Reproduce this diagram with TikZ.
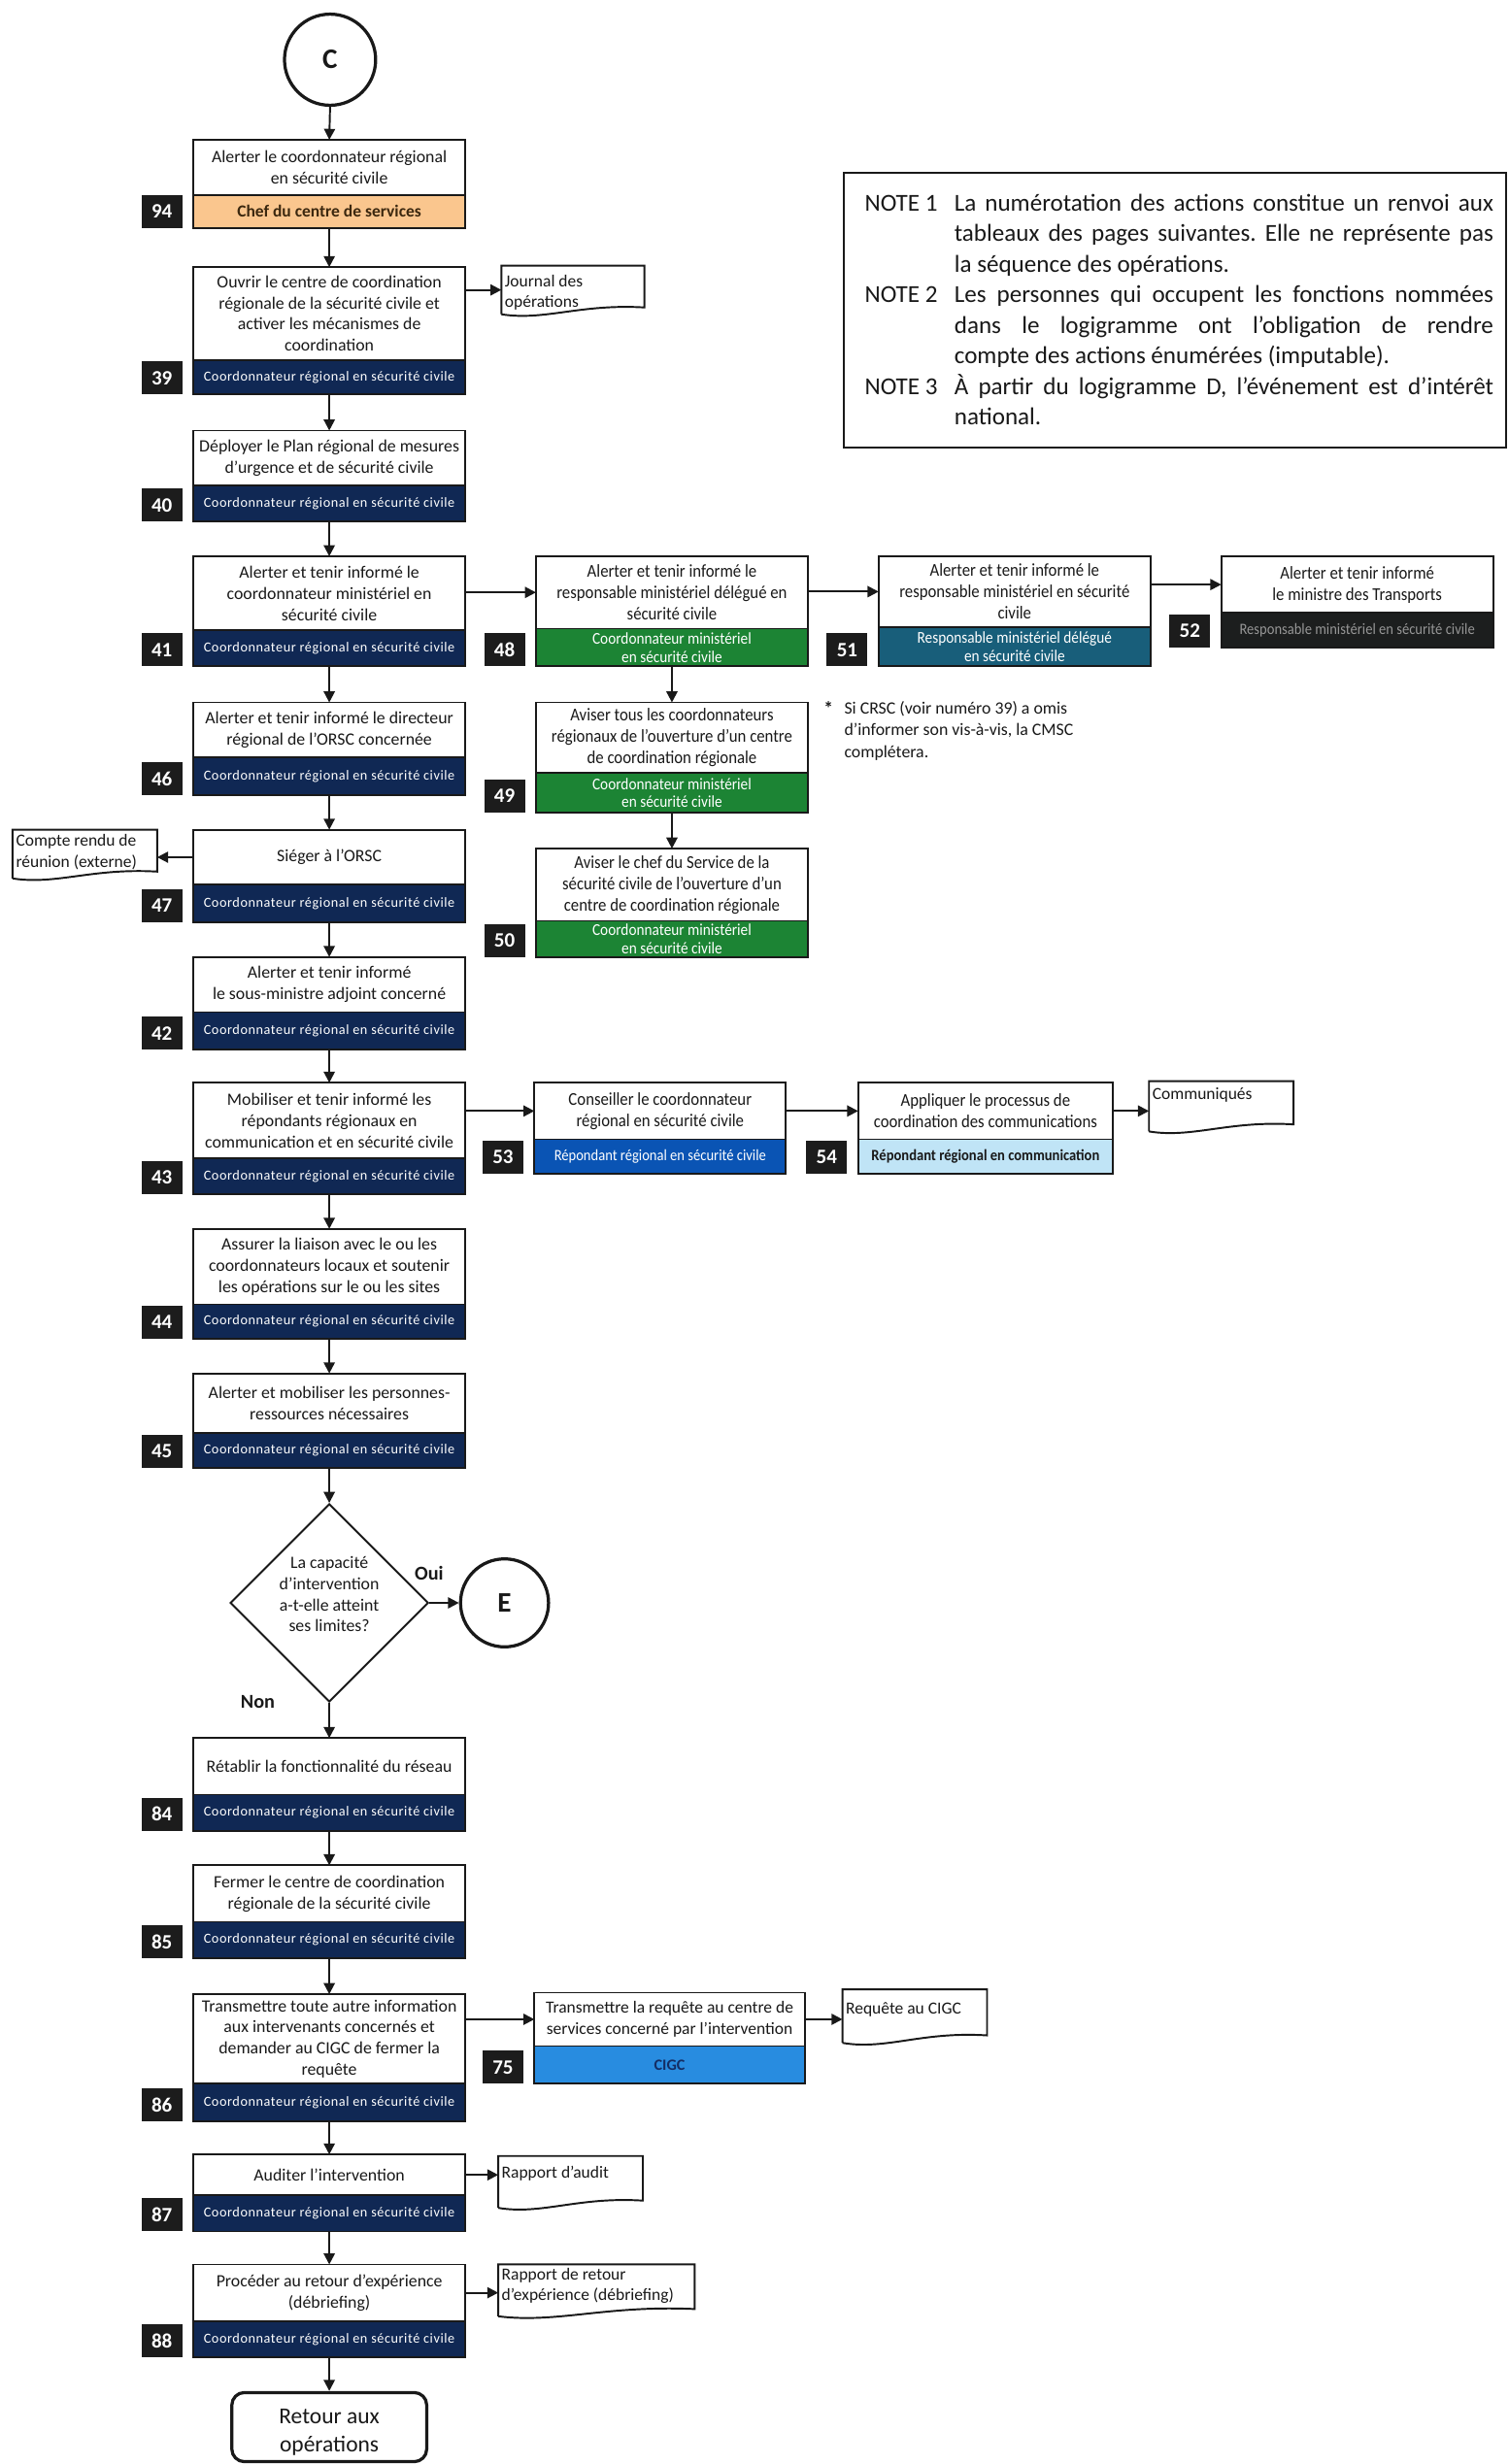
\documentclass[tikz,border=0pt]{standalone}
\usepackage{fontspec}
\setmainfont{Carlito}
\newfontfamily\narrowfont[FakeStretch=0.9]{Carlito}
\newfontfamily\bandfont[LetterSpace=4.0]{Carlito}
\usetikzlibrary{arrows.meta,shapes.geometric}

\definecolor{ink}{RGB}{25,25,25}
\definecolor{c-navy}{RGB}{16,40,84}
\definecolor{c-green}{RGB}{28,132,52}
\definecolor{c-teal}{RGB}{24,94,122}
\definecolor{c-dark}{RGB}{28,30,30}
\definecolor{c-blue}{RGB}{10,84,180}
\definecolor{c-pale}{RGB}{192,228,246}
\definecolor{c-cigc}{RGB}{40,140,224}
\definecolor{c-orange}{RGB}{250,198,142}
\definecolor{c-num}{RGB}{28,28,28}
\definecolor{c-grey}{RGB}{150,150,150}
\definecolor{c-brown}{RGB}{60,40,15}
\definecolor{c-cigctext}{RGB}{20,45,100}

\tikzset{
  arr/.style={draw=ink, line width=1.2pt, -{Triangle[length=7pt,width=7pt]}},
  task/.style={draw=ink, line width=1.1pt, fill=white, inner sep=1pt, outer sep=0pt,
    align=center, anchor=north west, text=ink, font=\fontsize{11}{13.5}\selectfont},
  narrowtask/.style={task, font=\narrowfont\fontsize{11.5}{13.5}\selectfont},
  curtask/.style={task},
  role/.style={draw=ink, line width=1.1pt, inner sep=0pt, outer sep=0pt, align=center, anchor=north west},
  navyrole/.style={role, fill=c-navy, text=white, font=\bandfont\fontsize{8.8}{10}\selectfont},
  orangerole/.style={role, fill=c-orange, text=c-brown, font=\bfseries\fontsize{10.8}{12}\selectfont},
  greenrole/.style={role, fill=c-green, text=white, font=\narrowfont\fontsize{10.5}{11.5}\selectfont},
  tealrole/.style={role, fill=c-teal, text=white, font=\narrowfont\fontsize{10.5}{11.5}\selectfont},
  darkrole/.style={role, fill=c-dark, text=c-grey, font=\narrowfont\fontsize{10}{11.5}\selectfont},
  bluerole/.style={role, fill=c-blue, text=white, font=\narrowfont\fontsize{10}{11.5}\selectfont},
  palerole/.style={role, fill=c-pale, text=ink, font=\narrowfont\bfseries\fontsize{10}{11.5}\selectfont},
  cigcrole/.style={role, fill=c-cigc, text=c-cigctext, font=\bfseries\fontsize{10}{11.5}\selectfont},
  numbox/.style={fill=c-num, text=white, font=\bfseries\fontsize{13}{13}\selectfont,
    minimum width=26pt, minimum height=21pt, inner sep=0pt, outer sep=0pt, anchor=south east},
  docarea/.style={draw=none, inner sep=0pt, outer sep=0pt, anchor=north west},
  doclabel/.style={inner xsep=2pt, inner ysep=0pt, anchor=north west, align=left, text=ink,
    font=\fontsize{10.8}{13}\selectfont},
  docline/.style={draw=ink, line width=1.2pt},
  connector/.style={circle, draw=ink, line width=2pt, minimum size=58pt, inner sep=0pt,
    text=ink, font=\bfseries\fontsize{18}{18}\selectfont},
  answer/.style={text=ink, font=\bfseries\fontsize{12.5}{14}\selectfont, inner sep=0pt},
  footnote/.style={anchor=north west, inner sep=0pt, text=ink, font=\fontsize{11}{14}\selectfont},
}

% task box: white action part, coloured role band below, numbered tag at left
\newcommand\actw{173}
\newcommand\actbox[9]{%
  \node[curtask, minimum width=\actw pt, minimum height=#4pt] (#1) at (#2,#3) {#6};
  \node[#7, minimum width=\actw pt, minimum height=#5pt] (#1r) at (#1.south west) {#8};
  \node[numbox] (#1n) at ([xshift=-7pt]#1r.south west) {#9};
}

% document symbol with a wavy lower edge; #7 = text offset from the top
\newcommand\docshape[7]{%
  \node[docarea, minimum width=#4pt, minimum height=#5pt] (#1) at (#2,#3) {};
  \node[doclabel] (#1t) at ([yshift=-#7]#1.north west) {#6};
  \draw[docline] (#1.south west) -- (#1.north west) -- (#1.north east)
    -- ([yshift=0.14*#5]#1.south east)
    .. controls ([xshift=-0.45*#4, yshift=0.22*#5]#1.south east)
    and ([xshift=0.3*#4, yshift=-0.14*#5]#1.south west) .. (#1.south west);
}

\begin{document}
\begin{tikzpicture}[x=1pt, y=-1pt]
\fill[white] (0,0) rectangle (960,1568);
\useasboundingbox (0,0) rectangle (960,1568);

% ---------- main column ----------
\node[connector] (cC) at (210,38) {C};

\actbox{b94}{123}{89}{35}{21}{Alerter le coordonnateur régional\\en sécurité civile}{orangerole}{Chef du centre de services}{94}
\actbox{b39}{123}{170}{59}{22}{Ouvrir le centre de coordination\\régionale de la sécurité civile et\\activer les mécanismes de\\coordination}{navyrole}{Coordonnateur régional en sécurité civile}{39}
\actbox{b40}{123}{274}{35}{23}{Déployer le Plan régional de mesures\\d’urgence et de sécurité civile}{navyrole}{Coordonnateur régional en sécurité civile}{40}
\actbox{b41}{123}{354}{47}{23}{Alerter et tenir informé le\\coordonnateur ministériel en\\sécurité civile}{navyrole}{Coordonnateur régional en sécurité civile}{41}
\actbox{b46}{123}{447}{35}{24}{Alerter et tenir informé le directeur\\régional de l’ORSC concernée}{navyrole}{Coordonnateur régional en sécurité civile}{46}
\actbox{b47}{123}{528}{35}{24}{Siéger à l’ORSC}{navyrole}{Coordonnateur régional en sécurité civile}{47}
\actbox{b42}{123}{609}{35}{24}{Alerter et tenir informé\\le sous-ministre adjoint concerné}{navyrole}{Coordonnateur régional en sécurité civile}{42}
\actbox{b43}{123}{689}{48}{23}{Mobiliser et tenir informé les\\répondants régionaux en\\communication et en sécurité civile}{navyrole}{Coordonnateur régional en sécurité civile}{43}
\actbox{b44}{123}{782}{48}{22}{Assurer la liaison avec le ou les\\coordonnateurs locaux et soutenir\\les opérations sur le ou les sites}{navyrole}{Coordonnateur régional en sécurité civile}{44}
\actbox{b45}{123}{874}{38}{22}{Alerter et mobiliser les personnes-\\ressources nécessaires}{navyrole}{Coordonnateur régional en sécurité civile}{45}

\node[diamond, draw=ink, line width=1.2pt, minimum width=126pt, minimum height=126pt,
  inner sep=0pt] (dec) at (209.5,1020) {};
\node[align=center, inner sep=0pt, text=ink, font=\fontsize{11}{13.5}\selectfont] (dectext) at (209.5,1014.5)
  {La capacité\\d’intervention\\a-t-elle atteint\\ses limites?};
\node[connector, minimum size=56pt] (cE) at (321,1020) {E};
\node[answer] (oui) at (273,1001) {Oui};
\node[answer] (non) at (164,1083) {Non};

\actbox{b84}{123}{1106}{36}{23}{Rétablir la fonctionnalité du réseau}{navyrole}{Coordonnateur régional en sécurité civile}{84}
\actbox{b85}{123}{1187}{36}{23}{Fermer le centre de coordination\\régionale de la sécurité civile}{navyrole}{Coordonnateur régional en sécurité civile}{85}
\actbox{b86}{123}{1269}{57}{24}{Transmettre toute autre information\\aux intervenants concernés et\\demander au CIGC de fermer la\\requête}{navyrole}{Coordonnateur régional en sécurité civile}{86}
\actbox{b87}{123}{1371}{26}{23}{Auditer l’intervention}{navyrole}{Coordonnateur régional en sécurité civile}{87}
\actbox{b88}{123}{1441}{36}{23}{Procéder au retour d’expérience\\(débriefing)}{navyrole}{Coordonnateur régional en sécurité civile}{88}

\node[draw=ink, line width=2pt, rounded corners=8pt, minimum width=124pt, minimum height=44pt,
  align=center, text=ink, font=\fontsize{14.5}{17.5}\selectfont] (ret) at (209.5,1544.5)
  {\rule{0pt}{16pt}Retour aux\\opérations};

% ---------- branch boxes ----------
\tikzset{curtask/.style={narrowtask}}
\actbox{b48}{341}{354}{46}{24}{Alerter et tenir informé le\\responsable ministériel délégué en\\sécurité civile}{greenrole}{Coordonnateur ministériel\\en sécurité civile}{48}
\actbox{b49}{341}{447}{45}{25}{Aviser tous les coordonnateurs\\régionaux de l’ouverture d’un centre\\de coordination régionale}{greenrole}{Coordonnateur ministériel\\en sécurité civile}{49}
\actbox{b50}{341}{540}{46}{23}{Aviser le chef du Service de la\\sécurité civile de l’ouverture d’un\\centre de coordination régionale}{greenrole}{Coordonnateur ministériel\\en sécurité civile}{50}
\actbox{b51}{559}{354}{45}{25}{Alerter et tenir informé le\\responsable ministériel en sécurité\\civile}{tealrole}{Responsable ministériel délégué\\en sécurité civile}{51}
\actbox{b52}{777}{354}{36}{22}{Alerter et tenir informé\\le ministre des Transports}{darkrole}{Responsable ministériel en sécurité civile}{52}
\renewcommand\actw{160}
\actbox{b53}{340}{689}{36}{22}{Conseiller le coordonnateur\\régional en sécurité civile}{bluerole}{Répondant régional en sécurité civile}{53}
\renewcommand\actw{162}
\actbox{b54}{546}{689}{36}{22}{Appliquer le processus de\\coordination des communications}{palerole}{Répondant régional en communication}{54}
\tikzset{curtask/.style={task, font=\fontsize{10.8}{13.5}\selectfont}}
\renewcommand\actw{172}
\actbox{b75}{340}{1268}{34}{24}{Transmettre la requête au centre de\\services concerné par l’intervention}{cigcrole}{CIGC}{75}

% ---------- documents ----------
\docshape{jo}{319}{169}{91}{31}{Journal des\\opérations}{6}
\docshape{cr}{8}{528}{92}{31}{Compte rendu de\\réunion (externe)}{3}
\docshape{cm}{731}{688}{92}{32}{Communiqués}{4}
\docshape{rq}{536}{1266}{92}{34}{Requête au CIGC}{8}
\docshape{ra}{317}{1372}{92}{33}{Rapport d’audit}{6}
\docshape{rr}{317}{1441}{125}{33}{Rapport de retour\\d’expérience (débriefing)}{2}

% ---------- notes ----------
\node[draw=ink, line width=1.2pt, anchor=north west, minimum width=421pt, minimum height=175pt,
  inner sep=0pt, outer sep=0pt] (notes) at (537,110) {};
\node[anchor=west, inner sep=0pt, text=ink] (notetext) at (550,197) {%
  \begin{minipage}{400pt}\fontsize{15.5}{19.5}\selectfont\parindent=0pt\tolerance=9999\frenchspacing
  \hangindent=57pt\hangafter=1\noindent\makebox[57pt][l]{NOTE 1}La numérotation des actions constitue un renvoi aux\linebreak tableaux des pages suivantes. Elle ne représente pas\linebreak la séquence des opérations.\par
  \hangindent=57pt\hangafter=1\noindent\makebox[57pt][l]{NOTE 2}Les personnes qui occupent les fonctions nommées\linebreak dans le logigramme ont l’obligation de rendre\linebreak compte des actions énumérées (imputable).\par
  \hangindent=57pt\hangafter=1\noindent\makebox[57pt][l]{NOTE 3}À partir du logigramme D, l’événement est d’intérêt\linebreak national.\par
  \end{minipage}};

\node[footnote, font=\bfseries\fontsize{12}{14}\selectfont] (astmark) at (524,446) {*};
\node[footnote, align=left] (astnote) at (537,446)
  {Si CRSC (voir numéro 39) a omis\\d’informer son vis-à-vis, la CMSC\\complétera.};

% ---------- connectors ----------
\draw[arr] (cC.south) -- (b94.north);
\draw[arr] (b94r.south) -- (b39.north);
\draw[arr] (b39r.south) -- (b40.north);
\draw[arr] (b40r.south) -- (b41.north);
\draw[arr] (b41r.south) -- (b46.north);
\draw[arr] (b46r.south) -- (b47.north);
\draw[arr] (b47r.south) -- (b42.north);
\draw[arr] (b42r.south) -- (b43.north);
\draw[arr] (b43r.south) -- (b44.north);
\draw[arr] (b44r.south) -- (b45.north);
\draw[arr] (b45r.south) -- (dec.north);
\draw[arr] (dec.east) -- (cE.west);
\draw[arr] (dec.south) -- (b84.north);
\draw[arr] (b84r.south) -- (b85.north);
\draw[arr] (b85r.south) -- (b86.north);
\draw[arr] (b86r.south) -- (b87.north);
\draw[arr] (b87r.south) -- (b88.north);
\draw[arr] (b88r.south) -- (ret.north);

\draw[arr] (b39.east |- jo.west) -- (jo.west);
\draw[arr] (b47.west) -- (cr.east |- b47.west);
\draw[arr] (b41.east |- b48.west) -- (b48.west);
\draw[arr] (b48.east |- b51.west) -- (b51.west);
\draw[arr] (b51.east |- b52.west) -- (b52.west);
\draw[arr] (b48r.south) -- (b49.north);
\draw[arr] (b49r.south) -- (b50.north);
\draw[arr] (b43.east |- b53.west) -- (b53.west);
\draw[arr] (b53.east) -- (b54.west);
\draw[arr] (b54.east) -- (cm.west |- b54.east);
\draw[arr] (b86.east |- b75.west) -- (b75.west);
\draw[arr] (b75.east) -- (rq.west |- b75.east);
\draw[arr] (b87.east) -- (ra.west |- b87.east);
\draw[arr] (b88.east) -- (rr.west |- b88.east);
\end{tikzpicture}
\end{document}
